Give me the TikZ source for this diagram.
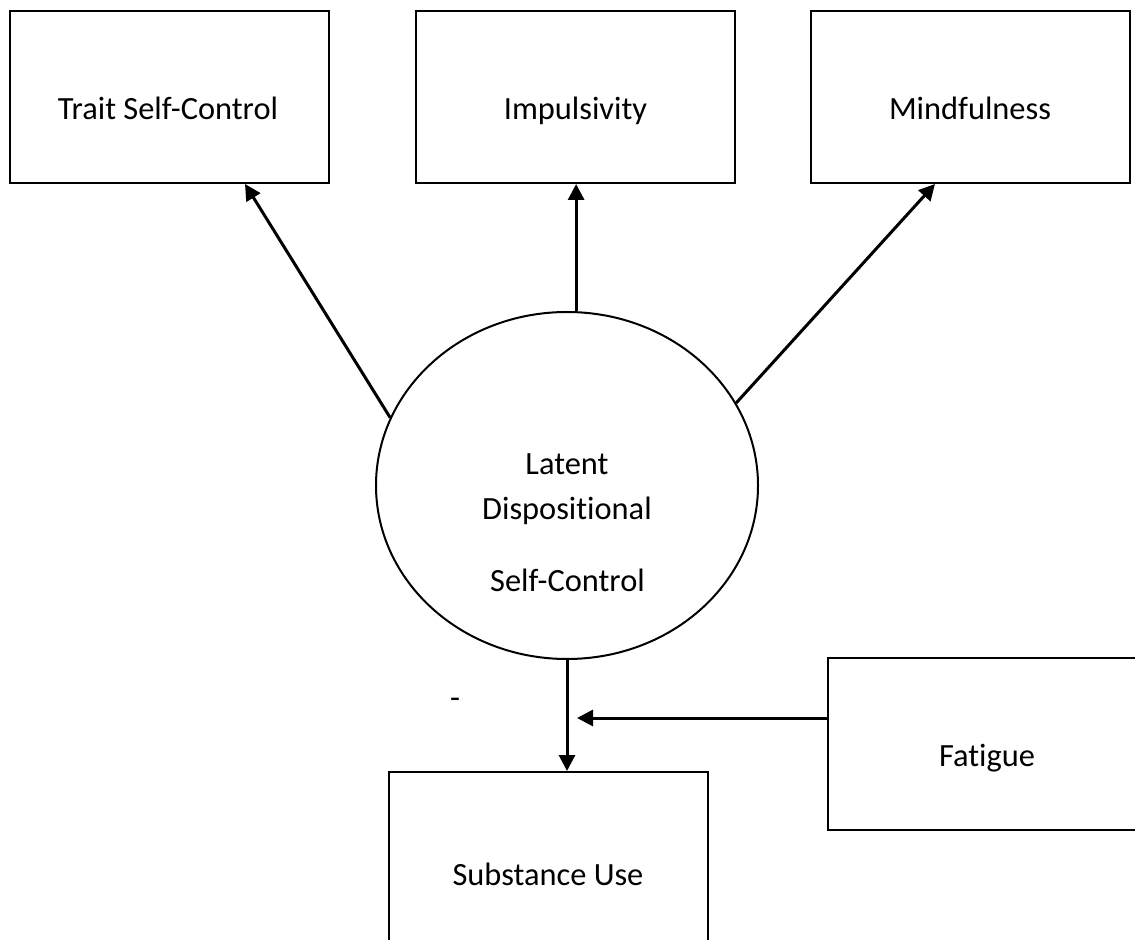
\documentclass[tikz,border=0pt]{standalone}
\usepackage{fontspec}
\setmainfont{Carlito}[Ligatures=CommonOff]
\usetikzlibrary{arrows.meta,shapes.geometric,calc}
\begin{document}
\begin{tikzpicture}[x=0.5pt,y=-0.5pt,
  box/.style={draw, line width=1pt, minimum width=159.5pt, minimum height=86pt, inner sep=0pt},
  latent/.style={draw, ellipse, line width=1pt, minimum width=191pt, minimum height=173.5pt, inner sep=0pt},
  lbl/.style={inner sep=0pt, anchor=base, font=\fontsize{16.2pt}{19pt}\selectfont},
  arr/.style={line width=1.5pt, -{Triangle[length=8pt,width=8pt]}}
]
\path[use as bounding box, clip] (0,0) rectangle (1135,940);

% indicator boxes
\node[box] (trait) at (169.5,97) {};
\node[box] (imp)   at (575.5,97) {};
\node[box] (mind)  at (970,97)   {};
\node[lbl] (traitlbl) at (168,120) {Trait Self-Control};
\node[lbl] (implbl)   at (575.5,120) {Impulsivity};
\node[lbl] (mindlbl)  at (970,120) {Mindfulness};

% latent factor
\node[latent] (lat) at (567,485.5) {};
\node[lbl] (lat1) at (567,475) {Latent};
\node[lbl] (lat2) at (567,520) {Dispositional};
\node[lbl] (lat3) at (567.5,592) {Self-Control};

% outcome and moderator
\node[box, minimum height=90pt] (sub) at (548.5,862) {};
\node[lbl] (sublbl) at (548,885) {Substance Use};
\node[box] (fat) at (987.5,743.5) {};
\node[lbl] (fatlbl) at (987,766) {Fatigue};

% loadings
\draw[arr] (lat.159) -- ($(trait.south)+(75.5,0)$);
\draw[arr] (lat.87) -- (lat.87 |- imp.south);
\draw[arr] (lat.26) -- ($(mind.south)+(-35,0)$);

% structural path and moderation
\draw[arr] (lat.south) -- (lat.south |- sub.north);
\coordinate (mod) at (577,718);
\draw[arr] ($(fat.west)+(0,-25.5)$) -- (mod);
\node[lbl] (neg) at (455,708) {-};
\end{tikzpicture}
\end{document}
